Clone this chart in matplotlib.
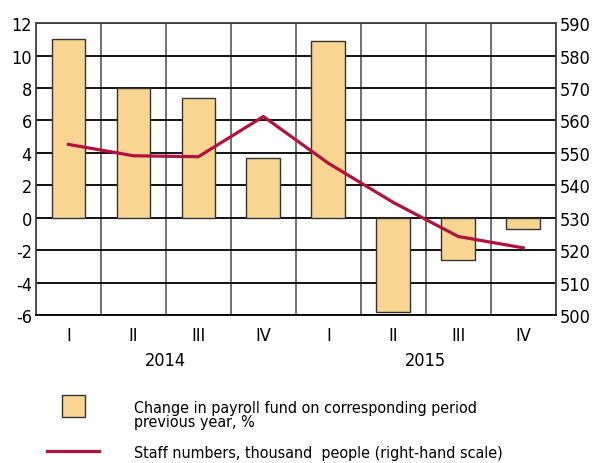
import matplotlib
matplotlib.use('Agg')
import matplotlib.pyplot as plt
from matplotlib.patches import Rectangle
from matplotlib.lines import Line2D
import matplotlib.transforms as mtransforms

plt.rcParams['font.family'] = ['DejaVu Sans']
plt.rcParams['font.stretch'] = 'condensed'
plt.rcParams['axes.unicode_minus'] = False

# data
quarters = ['I', 'II', 'III', 'IV', 'I', 'II', 'III', 'IV']
years = ['2014', '2015']
payroll_change = [11.0, 8.0, 7.4, 3.7, 10.9, -5.8, -2.6, -0.7]
staff_numbers = [552.6, 549.1, 548.8, 561.2, 546.8, 534.7, 524.2, 520.7]

bar_color = '#F8D591'
line_color = '#B3123E'

fig = plt.figure(figsize=(5.95, 4.64), dpi=100)
ax = fig.add_axes([0.0605, 0.319, 0.8735, 0.629])
x = list(range(len(quarters)))

ax.bar(x, payroll_change, width=0.52, color=bar_color, edgecolor='#333333', linewidth=1.0, zorder=3)
ax.set_xlim(-0.5, 7.5)
ax.set_ylim(-6, 12)
ax.set_yticks(range(-6, 13, 2))
ax.set_xticks(x)
ax.set_xticklabels(quarters, fontsize=13)
ax.set_xticks([i - 0.5 for i in range(9)], minor=True)
ax.tick_params(axis='both', which='both', length=0, labelsize=13)
ax.tick_params(axis='x', pad=8)
ax.tick_params(axis='y', pad=3)
ax.grid(axis='y', which='major', color='black', linewidth=1.3, zorder=1)
ax.grid(axis='x', which='minor', color='#666666', linewidth=1.3, zorder=1)
ax.set_axisbelow(True)
for s in ax.spines.values():
    s.set_color('#444444')
    s.set_linewidth(1.3)
ax.spines['bottom'].set_color('black')

trans = mtransforms.blended_transform_factory(ax.transData, ax.transAxes)
for i, yr in enumerate(years):
    ax.text(1.5 + 4 * i, -0.155, yr, transform=trans, ha='center', va='center', fontsize=13)

ax2 = ax.twinx()
ax2.plot(x, staff_numbers, color=line_color, linewidth=2.3, zorder=5)
ax2.set_ylim(500, 590)
ax2.set_yticks(range(500, 591, 10))
ax2.tick_params(axis='y', length=0, labelsize=13, pad=3)
for s in ax2.spines.values():
    s.set_visible(False)

# legend
fig.add_artist(Rectangle((62 / 595, 1 - 418 / 464), 23 / 595, 22 / 464, transform=fig.transFigure,
                         facecolor=bar_color, edgecolor='#333333', linewidth=1.0))
fig.add_artist(Line2D([47 / 595, 99 / 595], [1 - 452 / 464, 1 - 452 / 464], transform=fig.transFigure,
                      color=line_color, linewidth=2.3))
fig.text(134 / 595, 1 - 413 / 464, 'Change in payroll fund on corresponding period',
         ha='left', va='baseline', fontsize=11.5)
fig.text(134 / 595, 1 - 427 / 464, 'previous year, %',
         ha='left', va='baseline', fontsize=11.5)
fig.text(134 / 595, 1 - 458 / 464, 'Staff numbers, thousand  people (right-hand scale)',
         ha='left', va='baseline', fontsize=11.5)

fig.savefig('out.png', dpi=100)
